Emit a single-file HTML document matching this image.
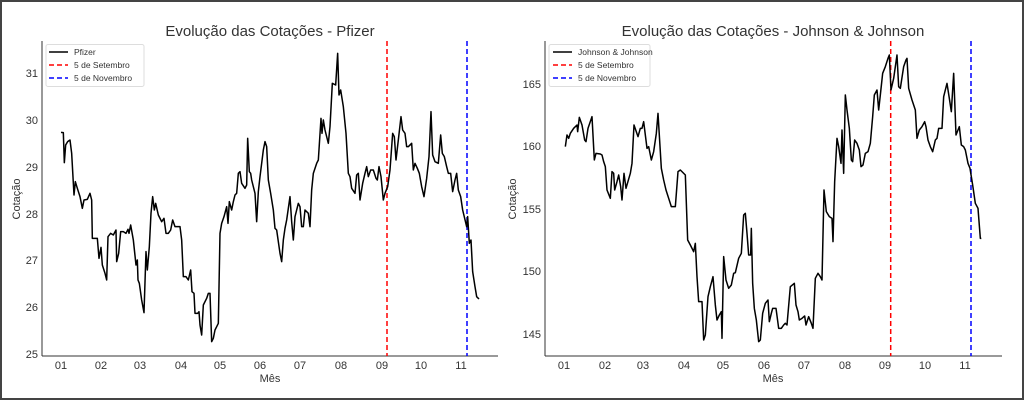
<!DOCTYPE html>
<html><head><meta charset="utf-8"><style>
html,body{margin:0;padding:0;background:#fff}
svg{display:block}
text{font-family:"Liberation Sans","DejaVu Sans",sans-serif;fill:#333}
</style></head><body>
<svg width="1024" height="400" viewBox="0 0 1024 400" xmlns="http://www.w3.org/2000/svg">
<rect x="0" y="0" width="1024" height="400" fill="#fff"/>
<rect x="1" y="1" width="1022" height="398" fill="none" stroke="#444" stroke-width="2"/>

<!-- LEFT CHART -->
<g>
<text x="270" y="36" font-size="15" text-anchor="middle">Evolução das Cotações - Pfizer</text>
<line x1="42" y1="41" x2="42" y2="356" stroke="#333" stroke-width="1"/>
<line x1="42" y1="356" x2="498" y2="356" stroke="#333" stroke-width="1"/>
<g font-size="11" text-anchor="end">
<text x="38" y="77">31</text><text x="38" y="124">30</text><text x="38" y="171">29</text>
<text x="38" y="218">28</text><text x="38" y="264">27</text><text x="38" y="311">26</text><text x="38" y="358">25</text>
</g>
<g font-size="11" text-anchor="middle">
<text x="61" y="369">01</text><text x="101" y="369">02</text><text x="140" y="369">03</text><text x="181" y="369">04</text>
<text x="220" y="369">05</text><text x="260" y="369">06</text><text x="300" y="369">07</text><text x="341" y="369">08</text>
<text x="382" y="369">09</text><text x="421" y="369">10</text><text x="461" y="369">11</text>
</g>
<text x="270" y="382" font-size="11" text-anchor="middle">Mês</text>
<text transform="translate(20,199) rotate(-90)" font-size="11" text-anchor="middle">Cotação</text>
<line x1="387" y1="41" x2="387" y2="356" stroke="#f00" stroke-width="1.5" stroke-dasharray="5,3"/>
<line x1="467" y1="41" x2="467" y2="356" stroke="#00f" stroke-width="1.5" stroke-dasharray="5,3"/>
<g transform="scale(0.33333)">
<polyline fill="none" stroke="#000" stroke-width="4.5" stroke-linejoin="round" points="183,397 190,398 193,488 197,435 203,425 210,420 215,460 222,585 226,545 232,565 240,590 247,625 252,600 262,598 270,580 275,600 277,715 292,715 297,775 303,742 307,795 315,820 320,840 324,710 332,700 340,705 348,690 350,785 356,760 362,695 370,695 378,700 384,688 387,700 392,675 400,720 408,795 412,780 414,840 418,850 425,900 432,938 438,755 442,810 448,740 453,640 458,590 463,630 467,610 475,645 485,665 492,655 498,700 505,700 512,690 518,660 525,680 540,680 545,720 550,830 558,830 565,840 572,810 576,875 582,880 585,940 593,940 597,935 600,975 605,1005 610,915 620,895 625,880 630,880 635,1025 640,1015 645,990 650,980 655,970 660,700 665,670 672,650 680,620 684,670 688,605 695,630 700,605 705,585 710,580 715,520 720,515 725,550 735,565 740,555 743,415 748,515 752,520 755,540 765,580 770,665 775,575 780,530 790,450 795,425 800,440 805,540 812,580 820,630 825,685 830,690 840,760 845,785 850,720 855,685 860,660 870,590 875,665 880,720 885,650 895,610 900,620 905,680 910,680 915,630 925,640 930,680 935,570 940,520 950,490 955,480 963,355 966,400 970,360 975,390 985,430 990,380 997,250 1007,255 1013,160 1017,285 1022,270 1030,320 1038,400 1045,520 1050,530 1055,565 1065,580 1070,525 1075,520 1080,600 1088,550 1095,520 1100,500 1105,530 1112,510 1120,510 1128,535 1132,540 1137,500 1143,530 1150,600 1155,580 1163,560 1170,510 1178,400 1183,410 1188,480 1195,420 1203,350 1208,390 1215,400 1220,440 1225,440 1235,430 1240,510 1245,490 1252,505 1258,520 1265,560 1272,590 1280,535 1287,470 1293,335 1298,465 1305,485 1315,490 1322,405 1327,460 1333,470 1340,500 1345,520 1352,520 1358,575 1365,540 1370,520 1375,570 1382,590 1388,630 1400,680 1403,650 1408,730 1413,720 1418,815 1425,860 1430,890 1437,897"/>
</g>
<rect x="46" y="44.5" width="98" height="42" fill="#fff" fill-opacity="0.85" stroke="#ddd" stroke-width="1" rx="2"/>
<line x1="49" y1="52" x2="68" y2="52" stroke="#000" stroke-width="1.5"/>
<line x1="49" y1="65" x2="68" y2="65" stroke="#f00" stroke-width="1.5" stroke-dasharray="5,3"/>
<line x1="49" y1="78" x2="68" y2="78" stroke="#00f" stroke-width="1.5" stroke-dasharray="5,3"/>
<g font-size="8.5"><text x="74" y="55">Pfizer</text><text x="74" y="68">5 de Setembro</text><text x="74" y="81">5 de Novembro</text></g>
</g>

<!-- RIGHT CHART -->
<g>
<text x="773" y="36" font-size="15" text-anchor="middle">Evolução das Cotações - Johnson &amp; Johnson</text>
<line x1="545" y1="41" x2="545" y2="356" stroke="#333" stroke-width="1"/>
<line x1="545" y1="356" x2="1002" y2="356" stroke="#333" stroke-width="1"/>
<g font-size="11" text-anchor="end">
<text x="541" y="88">165</text><text x="541" y="150">160</text><text x="541" y="213">155</text>
<text x="541" y="275">150</text><text x="541" y="338">145</text>
</g>
<g font-size="11" text-anchor="middle">
<text x="564" y="369">01</text><text x="605" y="369">02</text><text x="643" y="369">03</text><text x="684" y="369">04</text>
<text x="723" y="369">05</text><text x="764" y="369">06</text><text x="804" y="369">07</text><text x="845" y="369">08</text>
<text x="885" y="369">09</text><text x="925" y="369">10</text><text x="965" y="369">11</text>
</g>
<text x="773" y="382" font-size="11" text-anchor="middle">Mês</text>
<text transform="translate(516,199) rotate(-90)" font-size="11" text-anchor="middle">Cotação</text>
<line x1="890.7" y1="41" x2="890.7" y2="356" stroke="#f00" stroke-width="1.5" stroke-dasharray="5,3"/>
<line x1="971" y1="41" x2="971" y2="356" stroke="#00f" stroke-width="1.5" stroke-dasharray="5,3"/>
<g transform="translate(512,0) scale(0.33333)">
<polyline fill="none" stroke="#000" stroke-width="4.5" stroke-linejoin="round" points="160,440 165,405 170,415 175,400 185,385 195,375 197,395 202,352 210,375 218,420 222,425 228,385 240,350 247,480 252,460 265,462 270,465 275,485 280,500 285,570 295,595 300,515 305,520 308,570 315,545 320,525 326,560 330,600 336,520 342,565 355,520 360,490 366,375 378,410 385,385 390,385 395,365 405,445 410,440 418,480 425,455 433,400 438,340 448,505 455,540 462,570 470,595 478,620 490,620 498,515 505,510 520,525 527,720 535,735 545,755 550,730 555,830 560,905 570,905 575,1020 580,1005 588,890 595,860 603,830 610,915 615,960 622,945 628,935 630,1015 635,770 642,840 650,865 658,855 665,820 670,818 680,775 688,760 695,645 700,640 705,700 710,765 716,765 718,685 722,850 727,925 733,960 740,1025 745,1020 752,940 760,910 768,900 772,965 778,940 782,925 792,925 800,985 808,985 815,975 820,970 825,975 835,860 847,850 852,915 858,935 862,960 870,955 878,948 882,975 890,950 898,970 903,985 910,835 918,820 925,830 930,840 936,570 943,635 952,650 960,655 963,725 968,545 975,415 980,440 987,490 990,390 995,520 1000,285 1005,330 1012,385 1018,480 1022,485 1028,420 1035,430 1042,450 1047,500 1053,495 1060,460 1068,455 1075,430 1082,350 1087,285 1095,270 1100,330 1105,285 1112,220 1120,200 1128,175 1132,165 1137,270 1145,235 1155,165 1160,260 1165,265 1175,200 1182,180 1185,175 1190,265 1200,300 1210,330 1215,415 1222,390 1230,380 1238,365 1242,380 1248,420 1255,440 1262,455 1270,420 1275,415 1280,385 1290,385 1295,290 1305,250 1312,295 1318,335 1325,220 1332,405 1342,380 1348,435 1355,440 1360,450 1368,490 1374,505 1382,555 1390,610 1398,625 1405,715 1408,715"/>
</g>
<rect x="549" y="44.5" width="101" height="42" fill="#fff" fill-opacity="0.85" stroke="#ddd" stroke-width="1" rx="2"/>
<line x1="553" y1="52" x2="572" y2="52" stroke="#000" stroke-width="1.5"/>
<line x1="553" y1="65" x2="572" y2="65" stroke="#f00" stroke-width="1.5" stroke-dasharray="5,3"/>
<line x1="553" y1="78" x2="572" y2="78" stroke="#00f" stroke-width="1.5" stroke-dasharray="5,3"/>
<g font-size="8.5"><text x="578" y="55">Johnson &amp; Johnson</text><text x="578" y="68">5 de Setembro</text><text x="578" y="81">5 de Novembro</text></g>
</g>
</svg>
</body></html>
